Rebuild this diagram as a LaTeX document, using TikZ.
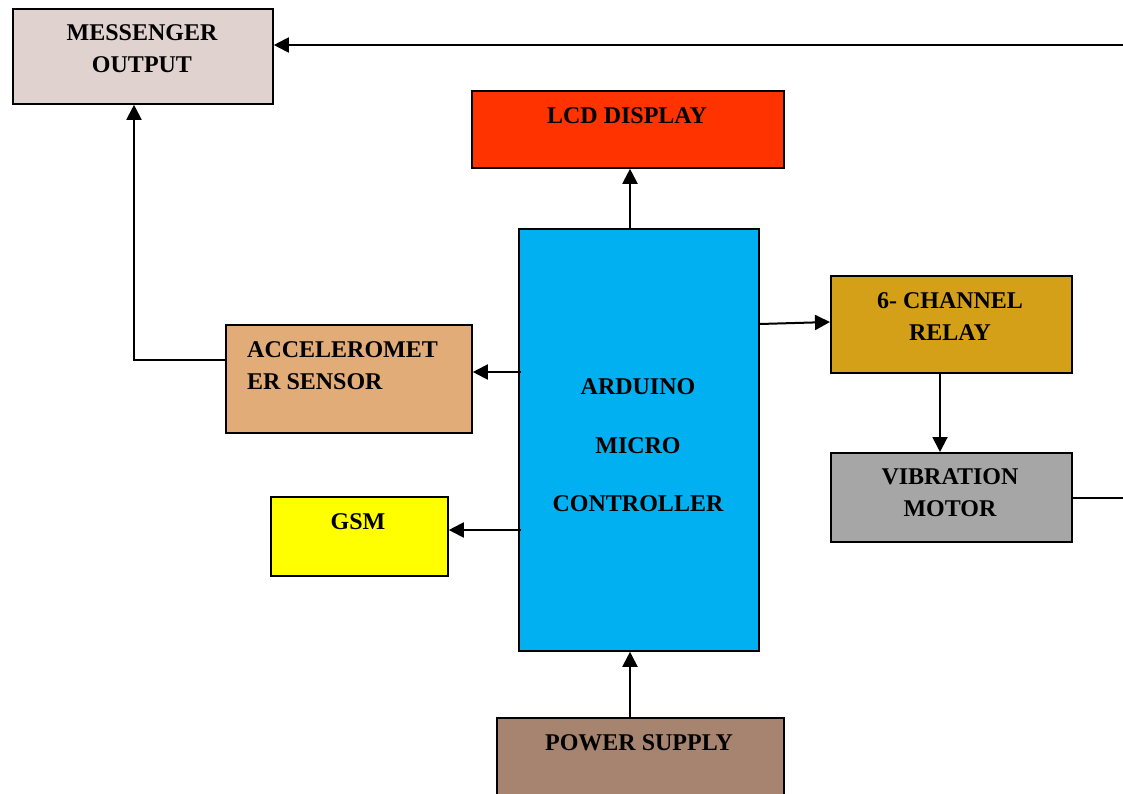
\documentclass[tikz,border=0pt]{standalone}
\usepackage{fontspec}
\setmainfont{Liberation Serif}
\usetikzlibrary{arrows.meta}
\definecolor{msgc}{HTML}{E0D2CE}
\definecolor{lcdc}{HTML}{FF3300}
\definecolor{arduc}{HTML}{00B0F0}
\definecolor{relayc}{HTML}{D4A017}
\definecolor{vibc}{HTML}{A6A6A6}
\definecolor{accc}{HTML}{E2AC78}
\definecolor{gsmc}{HTML}{FFFF00}
\definecolor{powc}{HTML}{A6846F}
\begin{document}
\begin{tikzpicture}[x=1pt,y=-1pt,
  box/.style={draw=black, line width=1.8pt, anchor=north west, inner sep=0pt},
  txt/.style={font=\fontsize{24}{32}\selectfont\bfseries, align=center, inner sep=0pt},
  conn/.style={line width=2pt, -{Triangle[length=15pt,width=15pt]}},
  wire/.style={line width=2pt}]
\useasboundingbox (0,0) rectangle (1123,794);
% boxes
\node[box, fill=msgc, minimum width=260pt, minimum height=95pt] (msg) at (12,8) {};
\node[box, fill=lcdc, minimum width=312pt, minimum height=77pt] (lcd) at (471,90) {};
\node[box, fill=arduc, minimum width=240pt, minimum height=422pt] (ard) at (518,228) {};
\node[box, fill=relayc, minimum width=241pt, minimum height=97pt] (relay) at (830,275) {};
\node[box, fill=vibc, minimum width=241pt, minimum height=89pt] (vib) at (830,452) {};
\node[box, fill=accc, minimum width=246pt, minimum height=108pt] (acc) at (225,324) {};
\node[box, fill=gsmc, minimum width=177pt, minimum height=79pt] (gsm) at (270,496) {};
\node[box, fill=powc, minimum width=287pt, minimum height=90pt] (pow) at (496,717) {};
% texts
\node[txt] (tmsg) at (142,49) {MESSENGER\\OUTPUT};
\node[txt] (tlcd) at (627,116) {LCD DISPLAY};
\node[txt, font=\fontsize{24}{58.5}\selectfont\bfseries] (tard) at (638,445.5) {ARDUINO\\MICRO\\CONTROLLER};
\node[txt] (trelay) at (950,317) {6- CHANNEL\\RELAY};
\node[txt] (tvib) at (950,493) {VIBRATION\\MOTOR};
\node[txt, align=left, anchor=west] (tacc) at (247,366) {ACCELEROMET\\ER SENSOR};
\node[txt] (tgsm) at (358,522) {GSM};
\node[txt] (tpow) at (639,743) {POWER SUPPLY};
% connectors
\coordinate (topR) at (1123,45);
\coordinate (vibR) at (1123,498);
\draw[conn] (topR) -- (msg.east |- topR);
\draw[conn] (acc.west |- 0,360) -- (134,360) -- (msg.south -| 134,0);
\draw[conn] (ard.north -| 630,0) -- (lcd.south -| 630,0);
\draw[conn] (ard.east |- 0,324) -- (relay.west |- 0,322);
\draw[conn] (521,372) -- (acc.east |- 0,372);
\draw[conn] (521,530) -- (gsm.east |- 0,530);
\draw[conn] (pow.north -| 630,0) -- (ard.south -| 630,0);
\draw[conn] (relay.south -| 940,0) -- (vib.north -| 940,0);
\draw[wire] (vib.east |- vibR) -- (vibR);
\end{tikzpicture}
\end{document}
